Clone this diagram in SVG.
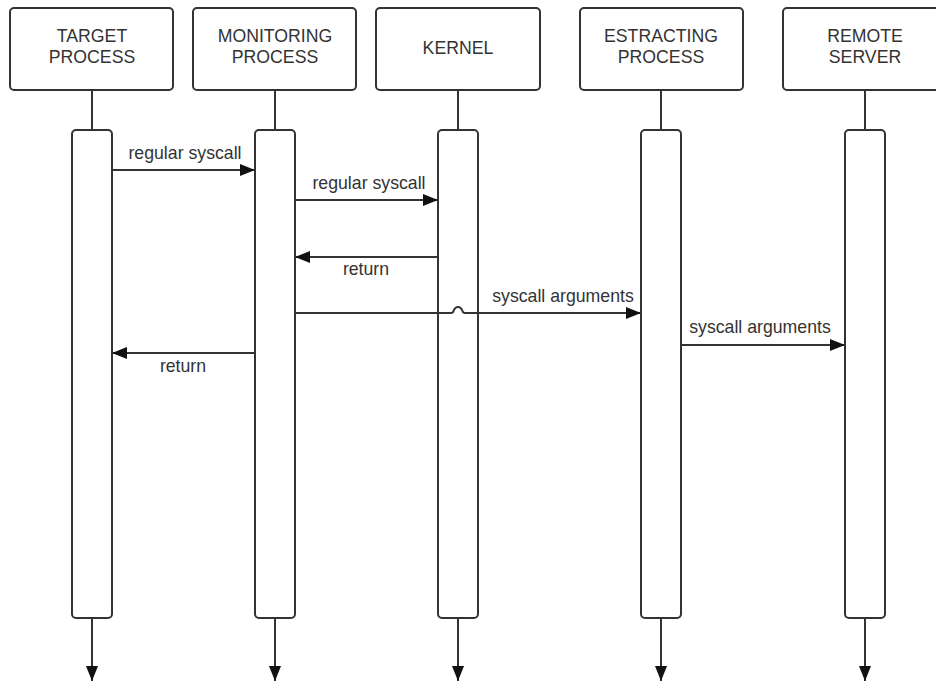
<svg xmlns="http://www.w3.org/2000/svg" width="936" height="682" viewBox="0 0 936 682">
<defs>
<marker id="ah" markerUnits="userSpaceOnUse" markerWidth="15" markerHeight="12" refX="15" refY="6" orient="auto">
<path d="M0,0 L15,6 L0,12 z" fill="#111"/>
</marker>
<style>
.box{fill:#fff;stroke:#333;stroke-width:2}
.bar{fill:#fff;stroke:#333;stroke-width:2}
.ln{fill:none;stroke:#333;stroke-width:2}
.msg{fill:none;stroke:#333;stroke-width:2;marker-end:url(#ah)}
text{font-family:"Liberation Sans",Arial,sans-serif;font-size:17.7px;fill:#333;text-anchor:middle}
</style>
</defs>
<rect width="936" height="682" fill="#fff"/>
<g id="connectors">
<line class="ln" x1="92" y1="90" x2="92" y2="130"/>
<line class="ln" x1="275" y1="90" x2="275" y2="130"/>
<line class="ln" x1="458" y1="90" x2="458" y2="130"/>
<line class="ln" x1="661" y1="90" x2="661" y2="130"/>
<line class="ln" x1="865" y1="90" x2="865" y2="130"/>
<line class="msg" x1="92" y1="618" x2="92" y2="681"/>
<line class="msg" x1="275" y1="618" x2="275" y2="681"/>
<line class="msg" x1="458" y1="618" x2="458" y2="681"/>
<line class="msg" x1="661" y1="618" x2="661" y2="681"/>
<line class="msg" x1="865" y1="618" x2="865" y2="681"/>
</g>
<g id="target">
<rect class="box" x="10" y="8" width="163" height="82" rx="4"/>
<text x="92" y="42">TARGET</text>
<text x="92" y="63">PROCESS</text>
<rect class="bar" x="72" y="130" width="40" height="488" rx="4"/>
</g>
<g id="monitoring">
<rect class="box" x="193" y="8" width="163" height="82" rx="4"/>
<text x="275" y="42">MONITORING</text>
<text x="275" y="63">PROCESS</text>
<rect class="bar" x="255" y="130" width="40" height="488" rx="4"/>
</g>
<g id="kernel">
<rect class="box" x="376" y="8" width="164" height="82" rx="4"/>
<text x="458" y="54">KERNEL</text>
<rect class="bar" x="438" y="130" width="40" height="488" rx="4"/>
</g>
<g id="extracting">
<rect class="box" x="580" y="8" width="163" height="82" rx="4"/>
<text x="661" y="42">ESTRACTING</text>
<text x="661" y="63">PROCESS</text>
<rect class="bar" x="641" y="130" width="40" height="488" rx="4"/>
</g>
<g id="remote">
<rect class="box" x="783" y="8" width="164" height="82" rx="4"/>
<text x="865" y="42">REMOTE</text>
<text x="865" y="63">SERVER</text>
<rect class="bar" x="845" y="130" width="40" height="488" rx="4"/>
</g>
<g id="messages">
<line class="msg" x1="112" y1="170" x2="255" y2="170"/>
<text x="185" y="159">regular syscall</text>
<line class="msg" x1="295" y1="200" x2="438" y2="200"/>
<text x="369" y="189">regular syscall</text>
<line class="msg" x1="438" y1="257" x2="295" y2="257"/>
<text x="366" y="275">return</text>
<path class="msg" d="M295,313 L451,313 Q453,313 453.5,311 Q455,307 458,307 Q461,307 462.5,311 Q463,313 465,313 L641,313"/>
<text x="563" y="302">syscall arguments</text>
<line class="msg" x1="681" y1="345" x2="845" y2="345"/>
<text x="760" y="333">syscall arguments</text>
<line class="msg" x1="255" y1="353" x2="112" y2="353"/>
<text x="183" y="372">return</text>
</g>
</svg>
